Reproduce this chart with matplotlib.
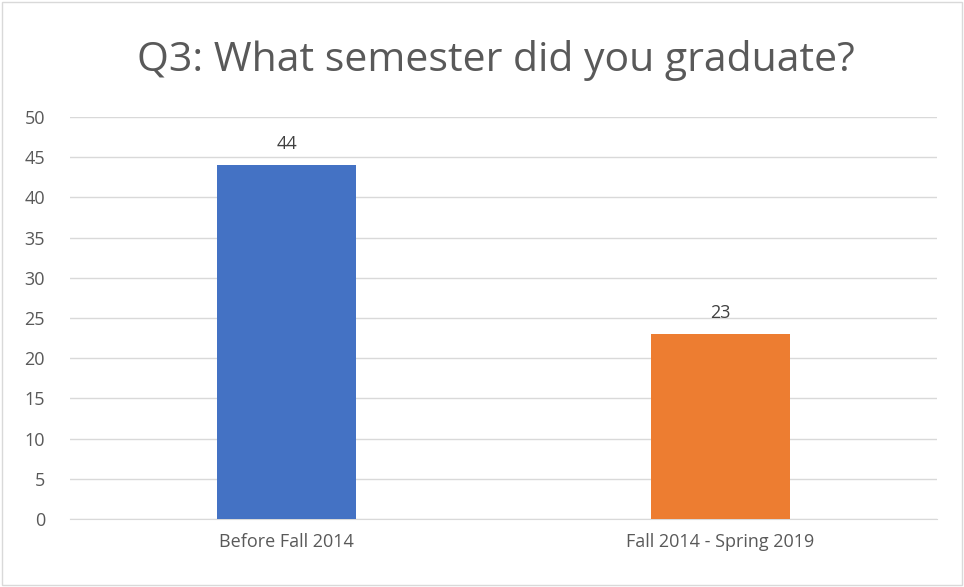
import matplotlib.pyplot as plt
from matplotlib.patches import Rectangle

categories = ['Before Fall 2014', 'Fall 2014 - Spring 2019']
counts = [44, 23]
colors = ['#4472C4', '#ED7D31']
yticks = list(range(0, 55, 5))

plt.rcParams['font.family'] = ['Open Sans', 'DejaVu Sans']

fig = plt.figure(figsize=(9.64, 5.87), dpi=100)
ax = fig.add_axes([0.0726, 0.1158, 0.8994, 0.6849])

x = range(len(categories))
bars = ax.bar(x, counts, width=0.32, color=colors, zorder=3)
for b, v in zip(bars, counts):
    ax.text(b.get_x() + b.get_width() / 2, v + 1.5, str(v),
            ha='center', va='bottom', fontsize=13, color='#404040')

ax.set_xlim(-0.5, 1.5)
ax.set_ylim(0, 50)
ax.set_yticks(yticks)
ax.set_xticks(list(x))
ax.set_xticklabels(categories)
ax.yaxis.grid(True, color='#D9D9D9', linewidth=1, zorder=0)
ax.tick_params(axis='both', length=0, labelsize=13, labelcolor='#595959')
ax.tick_params(axis='x', pad=10)
ax.tick_params(axis='y', pad=18)
for side in ['top', 'right', 'left']:
    ax.spines[side].set_visible(False)
ax.spines['bottom'].set_color('#D9D9D9')

fig.text(0.514, 0.897, 'Q3: What semester did you graduate?', ha='center',
         va='center', fontsize=29.5, color='#595959')

fig.patches.append(Rectangle((0.002, 0.003), 0.996, 0.994, transform=fig.transFigure,
                             fill=False, edgecolor='#D9D9D9', linewidth=1))

fig.savefig('out.png', dpi=100)
